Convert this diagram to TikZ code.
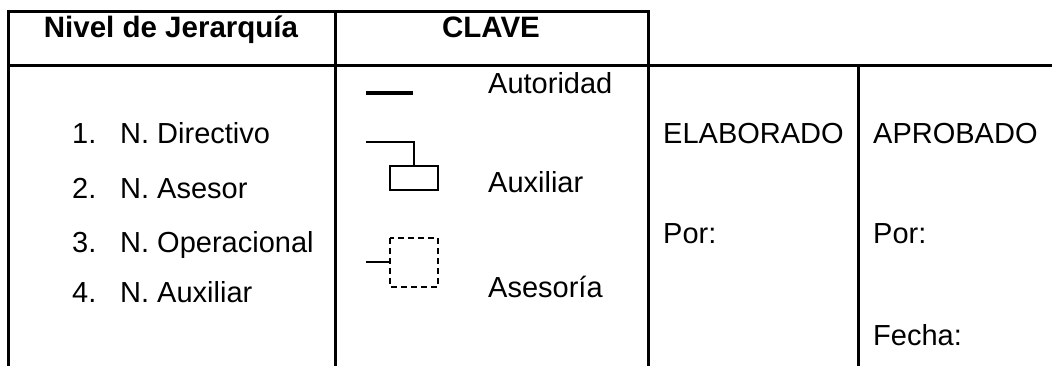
\documentclass[tikz,border=0pt]{standalone}
\usepackage{fontspec}
\setmainfont{Liberation Sans}
\usetikzlibrary{positioning}

\begin{document}
\begin{tikzpicture}[x=1pt,y=-1pt]
    \tikzstyle{frame}=[line width=3pt,draw=black,line join=miter]
    \tikzstyle{sym}=[line width=1.6pt,draw=black]
    \tikzstyle{txt}=[inner sep=0pt,anchor=base west,font=\fontsize{29}{34}\selectfont]
    \tikzstyle{head}=[inner sep=0pt,anchor=base,font=\fontsize{29.5}{34}\selectfont\bfseries]

    \useasboundingbox (0,0) rectangle (1052,365);

    % grid of the table
    \coordinate (tl) at (8,11);
    \coordinate (tr) at (648,11);
    \coordinate (ml) at (8,65);
    \coordinate (mr) at (1060,65);
    \coordinate (c1) at (335,11);
    \coordinate (c4) at (858,65);

    \draw[frame] (ml) -- (tl) -- (tr) -- (648,370);
    \draw[frame] (ml) -- (mr);
    \draw[frame] (tl) -- (8,370);
    \draw[frame] (c1) -- (335,370);
    \draw[frame] (c4) -- (858,370);

    % headers
    \node[head] (hnivel) at (171,37) {Nivel de Jerarquía};
    \node[head] (hclave) at (491,37) {CLAVE};

    % levels
    \node[txt] (k1) at (72,143) {1.};
    \node[txt] (l1) at (120,143) {N. Directivo};
    \node[txt] (k2) at (72,198) {2.};
    \node[txt] (l2) at (120,198) {N. Asesor};
    \node[txt] (k3) at (72,252) {3.};
    \node[txt] (l3) at (120,252) {N. Operacional};
    \node[txt] (k4) at (72,302) {4.};
    \node[txt] (l4) at (120,302) {N. Auxiliar};

    % key
    \node[txt] (autoridad) at (488,93) {Autoridad};
    \node[txt] (auxiliar) at (488,192) {Auxiliar};
    \node[txt] (asesoria) at (488,297) {Asesoría};

    \draw[line width=4pt] (366,93) -- (413,93);
    \draw[sym] (366,142) -- (414,142) -- (414,166);
    \draw[sym] (390,166) rectangle (438,190);
    \draw[sym] (366,262) -- (390,262);
    \draw[sym,dash pattern=on 6pt off 4pt] (390,238) rectangle (438,287);

    % signatures
    \node[txt] (elab) at (663,143) {ELABORADO};
    \node[txt] (aprob) at (873,143) {APROBADO};
    \node[txt] (por1) at (663,243) {Por:};
    \node[txt] (por2) at (873,243) {Por:};
    \node[txt] (fecha) at (873,345) {Fecha:};
\end{tikzpicture}
\end{document}
